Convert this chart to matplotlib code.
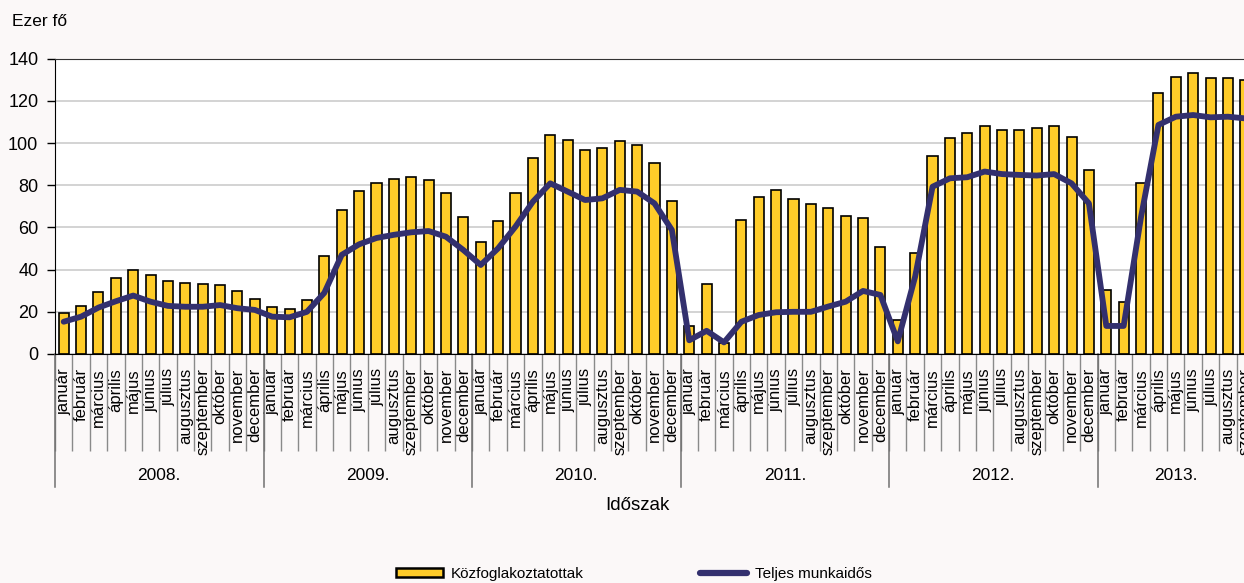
import matplotlib.pyplot as plt
import matplotlib.transforms as mtransforms
from matplotlib.patches import Patch
from matplotlib.lines import Line2D

months = ["január", "február", "március", "április", "május", "június",
          "július", "augusztus", "szeptember", "október", "november", "december"]
years = ["2008.", "2009.", "2010.", "2011.", "2012.", "2013."]
months_per_year = [12, 12, 12, 12, 12, 9]

kozfoglalkoztatottak = [
    19.6, 22.8, 29.4, 35.9, 39.7, 37.5, 34.8, 33.5, 33.0, 32.6, 29.7, 26.1,
    22.1, 21.3, 25.8, 46.3, 68.4, 77.1, 81.1, 83.0, 83.8, 82.5, 76.5, 64.8,
    53.3, 62.9, 76.2, 92.9, 103.8, 101.5, 96.9, 97.8, 101.2, 99.1, 90.4, 72.5,
    13.3, 33.3, 5.0, 63.5, 74.3, 77.8, 73.5, 71.3, 69.1, 65.6, 64.5, 50.7,
    16.1, 47.7, 93.9, 102.3, 104.9, 108.0, 106.2, 106.2, 107.0, 108.1, 103.0, 87.2,
    30.3, 24.8, 80.9, 123.9, 131.5, 133.1, 131.0, 130.9, 130.1,
]
teljes_munkaidos = [
    15.3, 17.7, 22.0, 25.0, 27.7, 24.8, 22.8, 22.4, 22.4, 23.2, 21.7, 20.9,
    17.7, 17.4, 20.0, 29.0, 47.0, 52.0, 55.0, 56.5, 57.7, 58.3, 55.6, 49.3,
    42.2, 50.1, 60.4, 72.2, 80.9, 77.0, 73.0, 73.8, 77.8, 77.0, 71.4, 58.8,
    6.5, 11.0, 5.5, 15.3, 18.5, 19.8, 20.0, 20.0, 22.5, 24.8, 29.9, 28.0,
    6.0, 36.7, 79.3, 83.3, 83.8, 86.5, 85.3, 84.9, 84.6, 85.3, 80.9, 71.4,
    13.3, 13.3, 65.0, 108.6, 112.5, 113.3, 112.2, 112.5, 111.7,
]

labels = []
for cnt in months_per_year:
    labels += months[:cnt]
n = len(labels)
x = list(range(n))

plt.rcParams["font.family"] = ["Liberation Sans", "DejaVu Sans"]

bg = "#FBF8F8"
fig = plt.figure(figsize=(12.44, 5.83), dpi=100, facecolor=bg)
ax = fig.add_axes([55 / 1244, 1 - 354 / 583, 1199 / 1244, 295.3 / 583])
ax.set_facecolor("white")

ax.bar(x, kozfoglalkoztatottak, width=0.58, color="#FFCC29",
       edgecolor="black", linewidth=1.2, zorder=2)
ax.plot(x, teljes_munkaidos, color="#33306E", linewidth=4.2,
        solid_joinstyle="round", solid_capstyle="round", zorder=3)

ax.set_ylim(0, 140)
ax.set_xlim(-0.5, n - 0.5)
ax.set_yticks(range(0, 141, 20))
ax.yaxis.grid(True, color="#D3D3D3", linewidth=1.4, zorder=0)
ax.set_axisbelow(True)
ax.tick_params(axis="y", direction="out", length=6, width=1, color="black",
               labelsize=13, pad=6)

ax.set_xticks(x)
ax.set_xticklabels(labels, rotation=90, fontsize=12, va="top", ha="center")
ax.tick_params(axis="x", which="major", length=0, pad=10)
ax.set_xticks([i - 0.5 for i in range(n + 1)], minor=True)
ax.tick_params(axis="x", which="minor", length=70, width=1, color="#8A8A8A",
               direction="out")

ax.spines["right"].set_visible(False)
ax.spines["top"].set_color("#333333")
ax.spines["left"].set_color("black")
ax.spines["bottom"].set_color("black")

trans = mtransforms.blended_transform_factory(ax.transData, ax.transAxes)
start = 0
for yr, cnt in zip(years, months_per_year):
    ax.plot([start - 0.5, start - 0.5], [0, -0.45], transform=trans,
            color="#707070", linewidth=1.1, clip_on=False)
    ax.text(start + cnt / 2 - 0.5, -0.413, yr, transform=trans, ha="center",
            va="center", fontsize=12.5)
    start += cnt

fig.text(12 / 1244, 1 - 22 / 583, "Ezer fő", ha="left", va="center",
         fontsize=12.5)
fig.text(637 / 1244, 1 - 505 / 583, "Időszak", ha="center", va="center",
         fontsize=13.5)

handles = [
    Patch(facecolor="#FFCC29", edgecolor="black", linewidth=1.8,
          label="Közfoglakoztatottak"),
    Line2D([], [], color="#33306E", linewidth=4.5, solid_capstyle="round",
           label="Teljes munkaidős"),
]
fig.legend(handles=handles, loc="center", ncol=2,
           bbox_to_anchor=(634 / 1244, 1 - 574 / 583), frameon=False,
           prop={"size": 11}, handlelength=3.1, handleheight=0.55,
           handletextpad=0.5, columnspacing=7.6)

fig.savefig("out.png", dpi=100, facecolor=bg)
